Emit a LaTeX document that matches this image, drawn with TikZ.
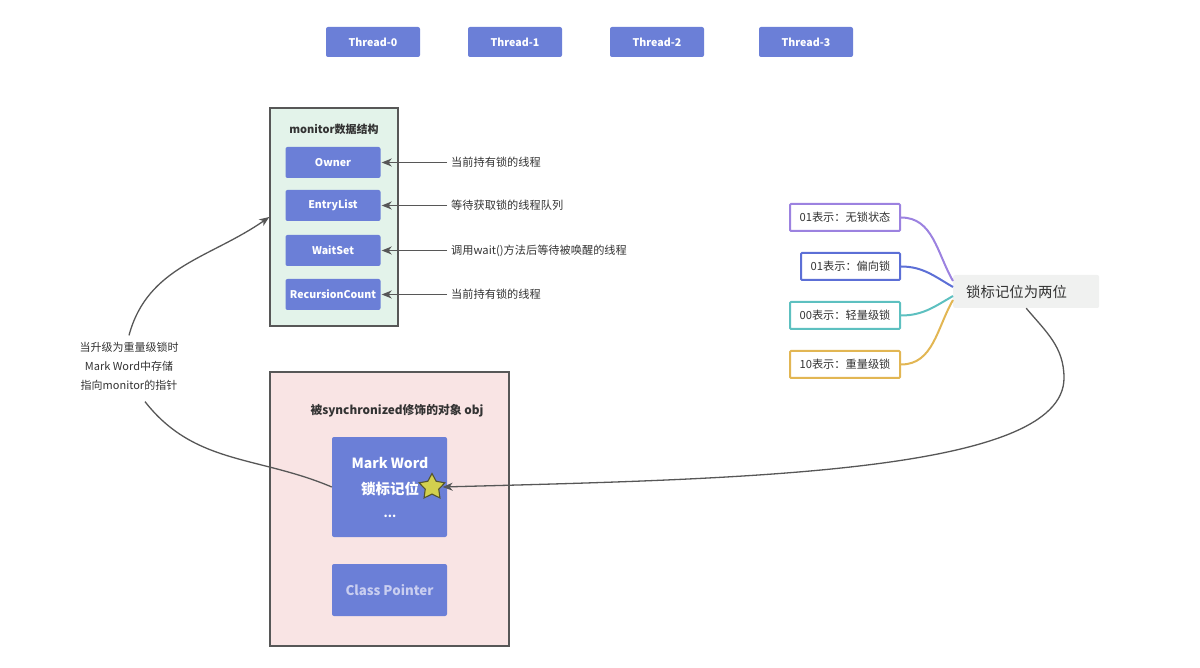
\documentclass[tikz,border=0pt]{standalone}
\usepackage{fontspec}
\setmainfont{Noto Sans CJK SC}
\usepackage{tikz}
\usetikzlibrary{shapes.geometric, arrows.meta}
\tikzset{>={Stealth[length=10pt,width=8pt,inset=3pt]}}
\definecolor{boxblue}{HTML}{6B7FD7}
\definecolor{linegray}{HTML}{575757}
\definecolor{textgray}{HTML}{333333}
\definecolor{monitorgreen}{HTML}{E3F3EA}
\definecolor{objpink}{HTML}{F9E4E4}
\definecolor{faintblue}{HTML}{C9CEF0}
\definecolor{staryellow}{HTML}{D2D04E}
\definecolor{stardark}{HTML}{55552E}
\definecolor{lockgray}{HTML}{F0F1F0}
\definecolor{mpurple}{HTML}{9C82E0}
\definecolor{mblue}{HTML}{5C6FD6}
\definecolor{mteal}{HTML}{5DC0C0}
\definecolor{mgold}{HTML}{E2B653}

\begin{document}
\begin{tikzpicture}[x=1pt,y=1pt,
		bluebox/.style={fill=boxblue, rounded corners=2pt, inner sep=0pt, text=white, font=\fontsize{10.6}{13}\selectfont\bfseries},
		annot/.style={anchor=west, inner xsep=4pt, text=textgray, font=\fontsize{11.2}{13}\selectfont},
		pointer/.style={->, draw=linegray, line width=1.3pt},
		statebox/.style={draw, line width=2pt, fill=white, rounded corners=1pt, minimum height=27pt, inner sep=0pt, text=textgray, font=\fontsize{11.2}{13}\selectfont},
		branch/.style={line width=2pt}]
			\useasboundingbox (0,0) rectangle (1200,-668);
			% threads
			\foreach \i/\x in {0/373,1/515,2/657,3/806}
				\node[bluebox, minimum width=94pt, minimum height=30pt] (thread\i) at (\x,-42) {Thread-\i};
			% monitor
			\node[draw=linegray, line width=1.5pt, fill=monitorgreen, minimum width=128pt, minimum height=218pt] (monitor) at (334,-217) {};
			\node[text=textgray, font=\fontsize{11}{13}\selectfont\bfseries] (montitle) at (334,-129) {monitor数据结构};
			\foreach \name/\y/\txt/\note in {owner/162.5/Owner/当前持有锁的线程, entry/205.5/EntryList/等待获取锁的线程队列, wait/250.5/WaitSet/调用wait()方法后等待被唤醒的线程, recur/294.5/RecursionCount/当前持有锁的线程} {
				\node[bluebox, minimum width=95pt, minimum height=31pt] (\name) at (333,-\y) {\txt};
				\node[annot] (\name-note) at (447,-\y) {\note};
				\draw[pointer, shorten >=1pt] (\name-note.west) -- (\name.east);
			}
			% object
			\node[draw=linegray, line width=1.5pt, fill=objpink, minimum width=239pt, minimum height=274pt] (obj) at (389.5,-509) {};
			\node[text=textgray, font=\fontsize{11.8}{13}\selectfont\bfseries] (objtitle) at (397,-411) {被synchronized修饰的对象 obj};
			\node[bluebox, minimum width=115pt, minimum height=100pt] (mark) at (389.5,-487) {};
			\node[text=white, font=\fontsize{14}{16}\selectfont\bfseries] (markname) at (390,-463) {Mark Word};
			\node[text=white, font=\fontsize{14.5}{16}\selectfont\bfseries] (markbits) at (390,-489) {锁标记位};
			\node[text=white, font=\fontsize{12}{14}\selectfont\bfseries] (markdots) at (390,-516) {...};
			\node[star, star points=5, star point ratio=1.9, fill=staryellow, draw=stardark, line width=1.1pt, minimum size=27pt, inner sep=0pt] (star) at (432,-487) {};
			\node[bluebox, text=faintblue, font=\fontsize{13.3}{16}\selectfont\bfseries, minimum width=115pt, minimum height=52pt] (klass) at (389.5,-590) {Class Pointer};
			% upgrade pointer
			\node[align=center, text=textgray, font=\fontsize{11}{19}\selectfont] (upgrade) at (129,-366) {当升级为重量级锁时\\Mark Word中存储\\指向monitor的指针};
			\draw[draw=linegray, line width=1.3pt] (mark.west) to[out=157,in=-52] ([xshift=16pt,yshift=-8pt]upgrade.south);
			\draw[pointer] ([yshift=3pt]upgrade.north) to[out=75,in=215] (monitor.west);
			% lock bits
			\node[fill=lockgray, rounded corners=2pt, anchor=west, inner xsep=13pt, text width=120pt, minimum height=33pt, text=textgray, font=\fontsize{14.4}{16}\selectfont] (lock) at (953,-291.5) {锁标记位为两位};
			\node[statebox, draw=mpurple, minimum width=110pt] (nolock) at (845,-217.5) {01表示：无锁状态};
			\node[statebox, draw=mblue, minimum width=99pt] (biased) at (850.5,-266.5) {01表示：偏向锁};
			\node[statebox, draw=mteal, minimum width=110pt] (light) at (845,-315.5) {00表示：轻量级锁};
			\node[statebox, draw=mgold, minimum width=110pt] (heavy) at (845,-364.5) {10表示：重量级锁};
			\draw[branch, mpurple] (nolock.east) to[out=0,in=120] ([yshift=10.5pt]lock.west);
			\draw[branch, mblue] (biased.east) to[out=0,in=150] ([yshift=4.5pt]lock.west);
			\draw[branch, mteal] (light.east) to[out=0,in=-150] ([yshift=-4.5pt]lock.west);
			\draw[branch, mgold] (heavy.east) to[out=0,in=-120] ([yshift=-8.5pt]lock.west);
			\coordinate (bend) at (1064,-378);
			\draw[pointer] (lock.south) to[out=-50,in=90] (bend) .. controls +(0,-95) and +(300,8) .. ([xshift=1pt]star.east);
		\end{tikzpicture}
\end{document}
